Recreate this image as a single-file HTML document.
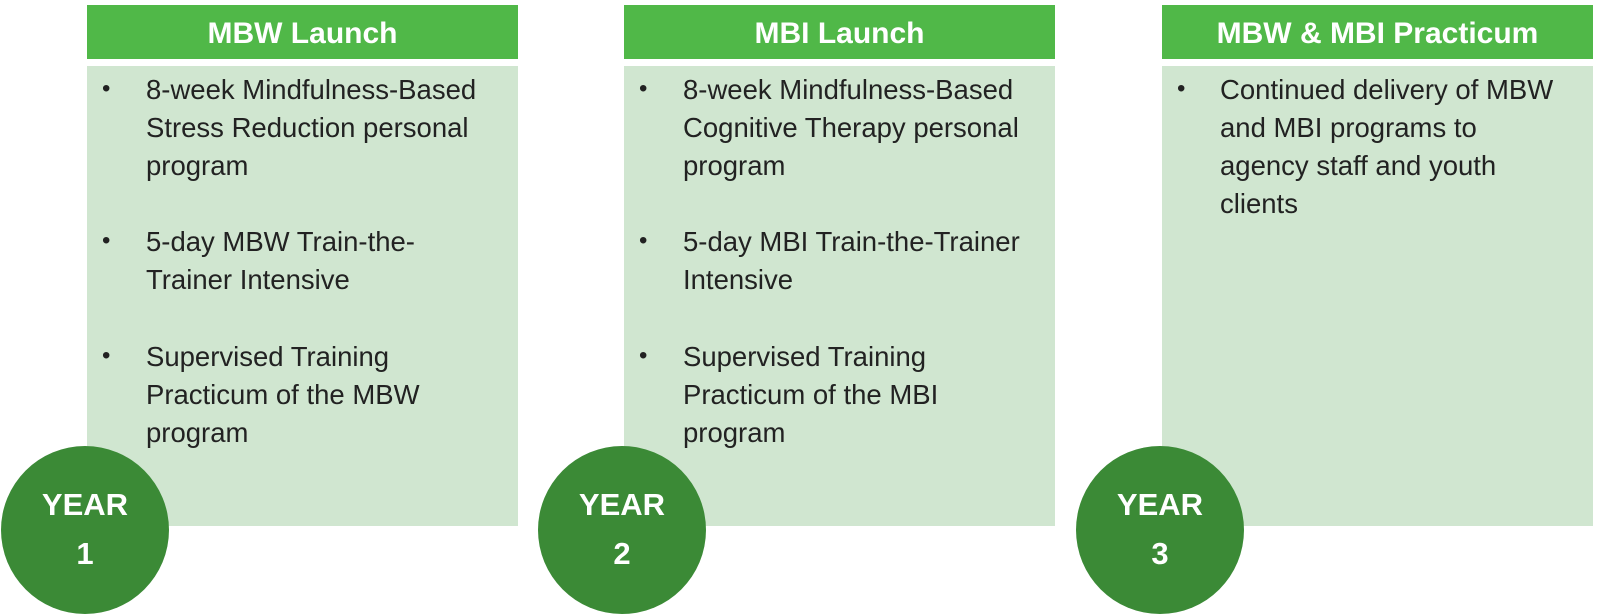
<!DOCTYPE html>
<html><head><style>
body{margin:0;width:1600px;height:612px;background:#fff;position:relative;overflow:hidden;font-family:"Liberation Sans",sans-serif}
.h{position:absolute;top:5px;height:54px;width:431px;background:#50b848;color:#fff;font-weight:bold;font-size:30px;text-align:center;line-height:58px}
.b{position:absolute;top:66px;height:460px;width:431px;background:#d0e6d0}
.t{position:absolute;font-size:27.5px;color:#222;white-space:nowrap;line-height:38px}
.bl{position:absolute;font-size:24px;color:#222}
.c{position:absolute;top:446px;width:168px;height:168px;border-radius:50%;background:#3b8a36;color:#fff;font-weight:bold;font-size:31px;text-align:center;line-height:49px}
.c div{padding-top:34px}
</style></head><body>
<div class="h" style="left:87px">MBW Launch</div>
<div class="b" style="left:87px"></div>
<div class="h" style="left:624px">MBI Launch</div>
<div class="b" style="left:624px"></div>
<div class="h" style="left:1162px">MBW &amp; MBI Practicum</div>
<div class="b" style="left:1162px"></div>

<div class="bl" style="left:102px;top:75px">•</div>
<div class="t" style="left:146px;top:71px">8-week Mindfulness-Based<br>Stress Reduction personal<br>program</div>
<div class="bl" style="left:102px;top:227px">•</div>
<div class="t" style="left:146px;top:223px">5-day MBW Train-the-<br>Trainer Intensive</div>
<div class="bl" style="left:102px;top:342px">•</div>
<div class="t" style="left:146px;top:338px">Supervised Training<br>Practicum of the MBW<br>program</div>

<div class="bl" style="left:639px;top:75px">•</div>
<div class="t" style="left:683px;top:71px">8-week Mindfulness-Based<br>Cognitive Therapy personal<br>program</div>
<div class="bl" style="left:639px;top:227px">•</div>
<div class="t" style="left:683px;top:223px">5-day MBI Train-the-Trainer<br>Intensive</div>
<div class="bl" style="left:639px;top:342px">•</div>
<div class="t" style="left:683px;top:338px">Supervised Training<br>Practicum of the MBI<br>program</div>

<div class="bl" style="left:1177px;top:75px">•</div>
<div class="t" style="left:1220px;top:71px">Continued delivery of MBW<br>and MBI programs to<br>agency staff and youth<br>clients</div>

<div class="c" style="left:1px"><div>YEAR<br>1</div></div>
<div class="c" style="left:538px"><div>YEAR<br>2</div></div>
<div class="c" style="left:1076px"><div>YEAR<br>3</div></div>
</body></html>
